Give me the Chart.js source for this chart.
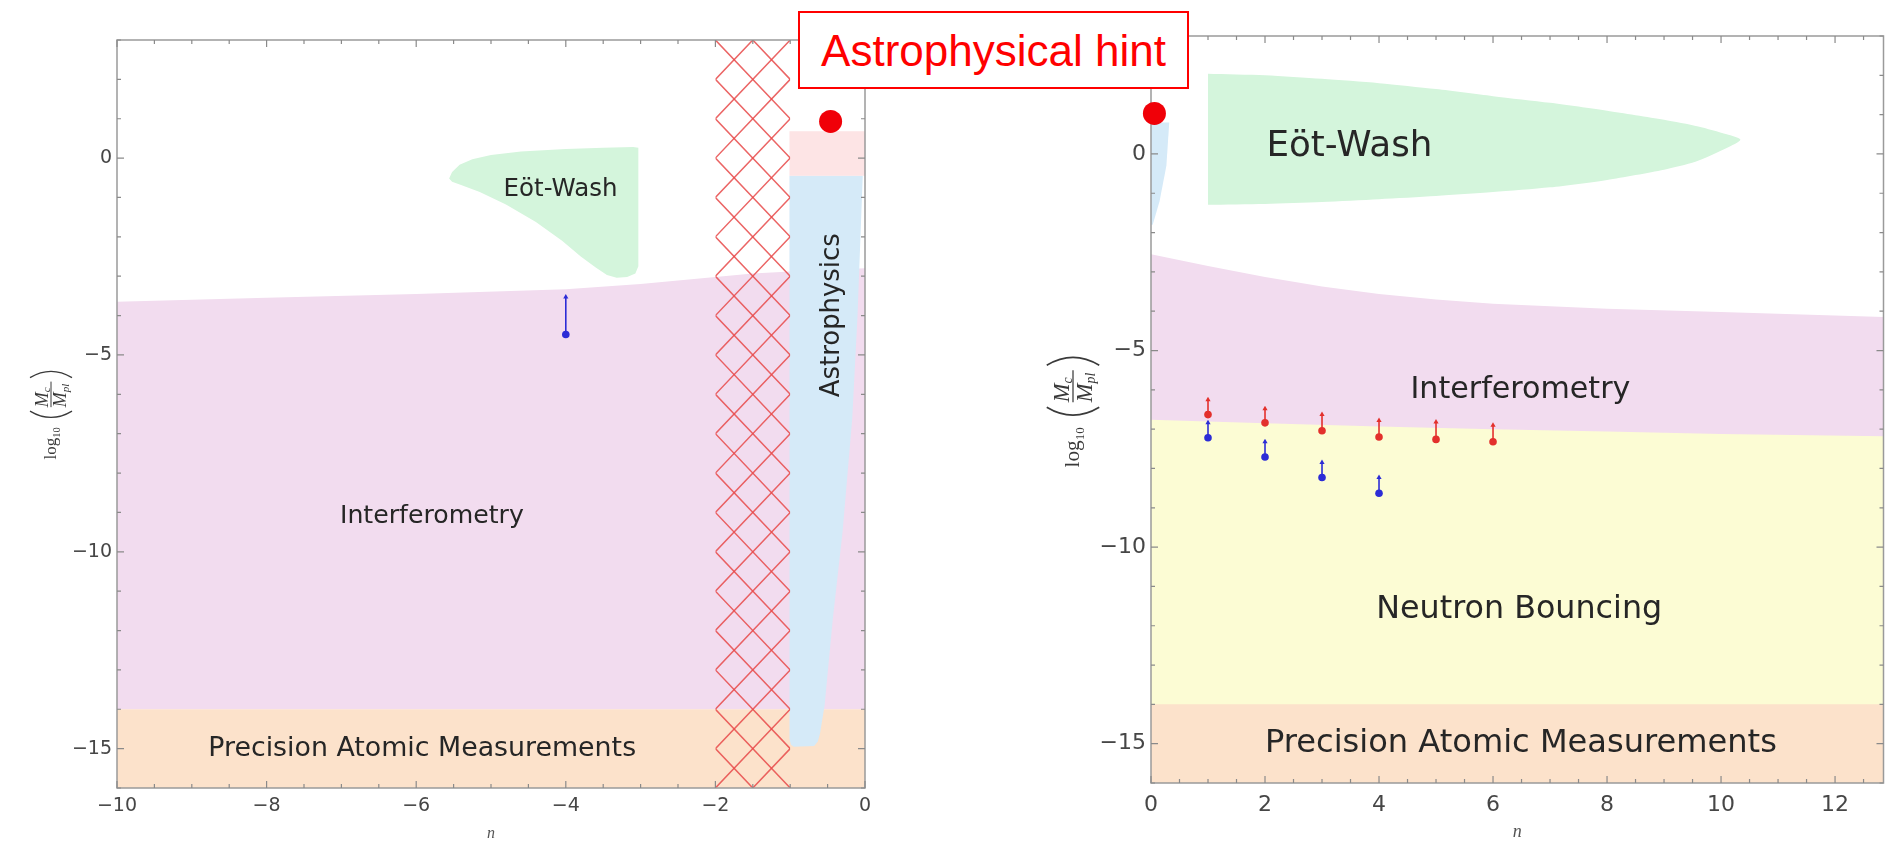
<!DOCTYPE html>
<html><head><meta charset="utf-8">
<script src="https://cdn.jsdelivr.net/npm/chart.js@4.4.1/dist/chart.umd.min.js"></script>
<style>
html,body{margin:0;padding:0;background:#fff;width:1895px;height:843px;overflow:hidden;}
canvas{position:absolute;top:0;}
#left{left:0;}
#right{left:940px;}
#hint{position:absolute;left:798px;top:11px;width:387px;height:74px;border:2px solid #ff0000;background:#fff;color:#ff0000;
 font-family:'Liberation Sans',Arial,sans-serif;font-size:44px;line-height:76px;text-align:center;z-index:5;white-space:nowrap;}
</style></head><body>
<canvas id="left" width="940" height="843"></canvas>
<canvas id="right" width="955" height="843"></canvas>
<div id="hint">Astrophysical hint</div>
<script>
// ---------------- data ----------------
const yRange = [-16, 3];
const leftNRange = [-10, 0];
const rightNRange = [0, 12.85];
const yTickLabels = [-15, -10, -5, 0];
const leftNTickLabels = [-10, -8, -6, -4, -2, 0];
const rightNTickLabels = [0, 2, 4, 6, 8, 10, 12];

const precisionTop = -14;

// left panel (n < 0)
const leftInterfN   = [-10, -8, -6, -4, -3, -2, -1.5, -1, 0];
const leftInterfTop = [-3.65, -3.55, -3.45, -3.33, -3.2, -3.02, -2.93, -2.88, -2.8];
const leftEotN = [-5.56, -5.52, -5.42, -5.25, -5.0, -4.6, -4.0, -3.5, -3.1, -3.03, -3.03, -3.07, -3.18, -3.32, -3.45, -3.6, -3.8, -4.05, -4.4, -4.8, -5.15, -5.4, -5.52];
const leftEotY = [-0.52, -0.35, -0.17, -0.03, 0.08, 0.17, 0.23, 0.26, 0.28, 0.26, -2.75, -2.93, -3.02, -3.04, -2.97, -2.78, -2.5, -2.1, -1.62, -1.18, -0.86, -0.68, -0.6];
const leftAstroN = [-1.01, -0.03, -0.1, -0.17, -0.3, -0.43, -0.54, -0.6, -0.63, -0.68, -0.95, -0.99, -1.01];
const leftAstroY = [-0.45, -0.45, -4, -6.6, -9.5, -11.7, -13.9, -14.6, -14.82, -14.93, -14.95, -14.9, -14.75];
const leftHintBoxN = [-1.01, 0, 0, -1.01];
const leftHintBoxY = [0.68, 0.68, -0.45, -0.45];
const leftHatchN = [-2, -1];
const leftBarN = [-4], leftBarLow = [-4.48], leftBarHigh = [-3.53];
const leftHintN = [-0.46], leftHintY = [0.93];

// right panel (n > 0)
const rightInterfN   = [0, 1, 2, 3, 4, 5, 6, 8, 10, 12.85];
const rightInterfTop = [-2.55, -2.85, -3.13, -3.37, -3.56, -3.7, -3.81, -3.94, -4.02, -4.15];
const rightNeutronN   = [0, 2, 4, 6, 8, 10, 12.85];
const rightNeutronTop = [-6.76, -6.85, -6.93, -7.0, -7.06, -7.12, -7.18];
const rightEotN = [1, 2, 3, 4, 5, 6, 7, 8, 9, 9.6, 10.1, 10.34, 10.1, 9.55, 9, 8, 7, 6, 5, 4, 3, 2, 1];
const rightEotY = [2.04, 2.0, 1.91, 1.8, 1.65, 1.47, 1.3, 1.1, 0.87, 0.7, 0.5, 0.36, 0.15, -0.2, -0.4, -0.66, -0.85, -0.97, -1.07, -1.15, -1.22, -1.27, -1.29];
const rightAstroN = [0, 0.32, 0.27, 0.15, 0.03, 0];
const rightAstroY = [0.8, 0.8, -0.3, -1.2, -1.8, -1.8];
const redBarN = [1, 2, 3, 4, 5, 6];
const redBarLow  = [-6.63, -6.84, -7.04, -7.2, -7.26, -7.32];
const redBarHigh = [-6.25, -6.48, -6.63, -6.78, -6.82, -6.9];
const blueBarN = [1, 2, 3, 4];
const blueBarLow  = [-7.22, -7.71, -8.23, -8.63];
const blueBarHigh = [-6.84, -7.32, -7.85, -8.23];
const rightHintN = [0.06], rightHintY = [1.03];

// ---------------- helpers ----------------
const pts = (xs, ys) => xs.map((x, i) => ({x, y: ys[i]}));
function bars(ns, lows, highs) {
  const d = [];
  ns.forEach((n, i) => { d.push({x: n, y: lows[i]}); d.push({x: n, y: highs[i]}); d.push({x: n, y: null}); });
  return d;
}
const COL = {
  pink: '#f2dcef', orange: '#fce2cb', green: '#d4f5dc', blue: '#d5eaf8', yellow: '#fcfcd4', hintBox: '#fde4e5',
  red: '#e3302c', barBlue: '#2c2cd6', dot: '#f00008'
};
function polyDS(data, color, order, extra) {
  return Object.assign({data, backgroundColor: color, borderWidth: 0, pointRadius: 0, fill: 'shape', order, tension: 0}, extra || {});
}
function barDS(data, color, order) {
  return {data, borderColor: color, backgroundColor: color, borderWidth: 1.6, fill: false, order, spanGaps: false,
    pointStyle: c => (c.dataIndex % 3 === 1 ? 'triangle' : 'circle'),
    pointRadius: c => (c.dataIndex % 3 === 1 ? 3 : 3.8), pointBorderWidth: 0};
}
function dotDS(xs, ys, order) {
  return {data: pts(xs, ys), showLine: false, pointRadius: 11.5, pointBackgroundColor: COL.dot, pointBorderWidth: 0, order, clip: false};
}

function drawParen(ctx, x, w, h, left) {
  ctx.beginPath();
  if (left) { ctx.moveTo(x + w, -h / 2); ctx.quadraticCurveTo(x - w * 0.8, 0, x + w, h / 2); }
  else { ctx.moveTo(x, -h / 2); ctx.quadraticCurveTo(x + w * 1.8, 0, x, h / 2); }
  ctx.stroke();
}
function drawYTitle(ctx, cx, cy, s) {
  ctx.save();
  ctx.translate(cx, cy); ctx.rotate(-Math.PI / 2);
  const col = '#3a3a3a';
  ctx.fillStyle = col; ctx.strokeStyle = col;
  const serif = "'Liberation Serif', 'DejaVu Serif', serif";
  const fLog = 17 * s, fSub = 10.5 * s, fM = 18 * s, fMs = 11 * s;
  ctx.font = `${fLog}px ${serif}`; const wLog = ctx.measureText('log').width;
  ctx.font = `${fSub}px ${serif}`; const wSub = ctx.measureText('10').width;
  ctx.font = `italic ${fM}px ${serif}`; const wM = ctx.measureText('M').width;
  ctx.font = `italic ${fMs}px ${serif}`; const wpl = ctx.measureText('pl').width;
  const fracW = wM + wpl + 2 * s;
  const parenW = 7 * s, gap = 9 * s, inner = 4 * s, parenH = 42 * s;
  const total = wLog + wSub + gap + parenW + inner + fracW + inner + parenW;
  let x = -total / 2;
  const base = 5 * s;
  ctx.font = `${fLog}px ${serif}`; ctx.fillText('log', x, base); x += wLog;
  ctx.font = `${fSub}px ${serif}`; ctx.fillText('10', x, base + 3.5 * s); x += wSub + gap;
  ctx.lineWidth = 1.3 * s;
  drawParen(ctx, x, parenW, parenH, true); x += parenW + inner;
  ctx.lineWidth = 1 * s;
  ctx.beginPath(); ctx.moveTo(x, 0); ctx.lineTo(x + fracW, 0); ctx.stroke();
  ctx.font = `italic ${fM}px ${serif}`;
  ctx.fillText('M', x, -3 * s);
  ctx.fillText('M', x, 3 * s + fM * 0.68);
  ctx.font = `italic ${fMs}px ${serif}`;
  ctx.fillText('c', x + wM, -1 * s);
  ctx.fillText('pl', x + wM, 5.5 * s + fM * 0.68);
  x += fracW + inner;
  ctx.lineWidth = 1.3 * s;
  drawParen(ctx, x, parenW, parenH, false);
  ctx.restore();
}

// plugin that draws the hatch, region labels and the framed inward ticks
const panelPlugin = {
  id: 'panel',
  afterDatasetDraw(chart, args) {
    const ds = chart.data.datasets[args.index];
    if (!ds.lastBg) return;
    const P = chart.options.plugins.panel;
    const {ctx, chartArea: a, scales: {x, y}} = chart;
    // hatch
    if (P.hatch) {
      const xl = x.getPixelForValue(P.hatch[0]), xr = x.getPixelForValue(P.hatch[1]);
      ctx.save();
      ctx.beginPath(); ctx.rect(xl, a.top, xr - xl, a.bottom - a.top); ctx.clip();
      ctx.strokeStyle = 'rgba(232,74,74,0.85)'; ctx.lineWidth = 1.5;
      const span = P.hatch[1] - P.hatch[0];
      for (let k = Math.floor(y.min) - 4; k <= Math.ceil(y.max) + 4; k++) {
        ctx.beginPath();
        ctx.moveTo(xl, y.getPixelForValue(k)); ctx.lineTo(xr, y.getPixelForValue(k + 2 * span));
        ctx.moveTo(xl, y.getPixelForValue(k)); ctx.lineTo(xr, y.getPixelForValue(k - 2 * span));
        ctx.stroke();
      }
      ctx.restore();
    }
    // labels
    ctx.save();
    ctx.fillStyle = '#262626';
    P.labels.forEach(L => {
      ctx.font = "100px 'DejaVu Sans'";
      const w100 = ctx.measureText(L.t).width;
      const fs = 100 * L.w / w100;
      ctx.font = fs + "px 'DejaVu Sans'";
      ctx.textAlign = 'center'; ctx.textBaseline = 'alphabetic';
      const px = x.getPixelForValue(L.n), py = y.getPixelForValue(L.y);
      ctx.save(); ctx.translate(px, py);
      if (L.rot) ctx.rotate(-Math.PI / 2);
      ctx.fillText(L.t, 0, fs * 0.365);
      ctx.restore();
    });
    ctx.restore();
    // frame + inward ticks
    ctx.save();
    ctx.strokeStyle = '#9a9a9a'; ctx.lineWidth = 1.5;
    ctx.strokeRect(a.left, a.top, a.right - a.left, a.bottom - a.top);
    ctx.lineWidth = 1.2; ctx.strokeStyle = '#8a8a8a';
    ctx.beginPath();
    x.ticks.forEach(t => {
      const px = x.getPixelForValue(t.value);
      const len = P.xMajor.includes(t.value) ? 7 : 4;
      ctx.moveTo(px, a.bottom); ctx.lineTo(px, a.bottom - len);
      ctx.moveTo(px, a.top); ctx.lineTo(px, a.top + len);
    });
    y.ticks.forEach(t => {
      const py = y.getPixelForValue(t.value);
      const len = yTickLabels.includes(t.value) ? 7 : 4;
      ctx.moveTo(a.left, py); ctx.lineTo(a.left + len, py);
      ctx.moveTo(a.right, py); ctx.lineTo(a.right - len, py);
    });
    ctx.stroke();
    ctx.restore();
  },
  afterDraw(chart) {
    const P = chart.options.plugins.panel;
    drawYTitle(chart.ctx, P.yTitle[0], P.yTitle[1], P.yTitle[2]);
  }
};

function fmt(v) { return v < 0 ? '\u2212' + Math.abs(v) : String(v); }
function stepList(a, b, s) { const r = []; for (let v = a; v <= b + 1e-9; v += s) r.push(Math.round(v * 100) / 100); return r; }

function makeChart(id, o) {
  return new Chart(document.getElementById(id), {
    type: 'line',
    data: {datasets: o.datasets},
    options: {
      responsive: false, animation: false, devicePixelRatio: 1,
      layout: {padding: o.pad},
      plugins: {legend: {display: false}, tooltip: {enabled: false},
        panel: {hatch: o.hatch, labels: o.labels, xMajor: o.xMajor, yTitle: o.yTitle}},
      scales: {
        x: {type: 'linear', min: o.nRange[0], max: o.nRange[1],
          grid: {display: false, drawTicks: false}, border: {display: false},
          afterBuildTicks: s => { s.ticks = stepList(Math.ceil(o.nRange[0] * 2) / 2, o.nRange[1], 0.5).map(v => ({value: v})); },
          afterFit: s => { s.height = o.xAxisH; },
          ticks: {autoSkip: false, maxRotation: 0, padding: o.xPad, color: '#464646',
            font: {family: "'DejaVu Sans'", size: o.tickSize},
            callback: v => (o.xMajor.includes(v) ? fmt(v) : '')},
          title: {display: true, text: 'n', color: '#555', padding: {top: 0, bottom: 0},
            font: {family: "'Liberation Serif', serif", style: 'italic', size: o.nSize}}
        },
        y: {type: 'linear', min: yRange[0], max: yRange[1],
          grid: {display: false, drawTicks: false}, border: {display: false},
          afterBuildTicks: s => { s.ticks = stepList(yRange[0], yRange[1], 1).map(v => ({value: v})); },
          afterFit: s => { s.width = o.yAxisW; },
          ticks: {autoSkip: false, padding: 5, color: '#464646',
            font: {family: "'DejaVu Sans'", size: o.tickSize},
            callback: v => (yTickLabels.includes(v) ? fmt(v) : '')}
        }
      }
    },
    plugins: [panelPlugin]
  });
}

makeChart('left', {
  nRange: leftNRange, pad: {left: 0, right: 75, top: 40, bottom: 0}, yAxisW: 117, xAxisH: 55, xPad: 7,
  tickSize: 19, nSize: 16, xMajor: leftNTickLabels, hatch: leftHatchN, yTitle: [51, 415, 1],
  labels: [
    {t: 'Eöt-Wash', n: -4.07, y: -0.73, w: 114},
    {t: 'Interferometry', n: -5.79, y: -9.04, w: 184},
    {t: 'Precision Atomic Measurements', n: -5.92, y: -14.95, w: 428},
    {t: 'Astrophysics', n: -0.47, y: -3.99, w: 164, rot: true}
  ],
  datasets: [
    Object.assign(polyDS(pts(leftInterfN, leftInterfTop), COL.pink, 50), {fill: {value: precisionTop}}),
    Object.assign(polyDS(pts(leftNRange, [precisionTop, precisionTop]), COL.orange, 49), {fill: 'start'}),
    polyDS(pts(leftEotN, leftEotY), COL.green, 48),
    polyDS(pts(leftAstroN, leftAstroY), COL.blue, 47),
    polyDS(pts(leftHintBoxN, leftHintBoxY), COL.hintBox, 46, {lastBg: true}),
    barDS(bars(leftBarN, leftBarLow, leftBarHigh), COL.barBlue, 5),
    dotDS(leftHintN, leftHintY, 1)
  ]
});

makeChart('right', {
  nRange: rightNRange, pad: {left: 0, right: 2, top: 36, bottom: 0}, yAxisW: 211, xAxisH: 60, xPad: 9,
  tickSize: 22, nSize: 18, xMajor: rightNTickLabels, hatch: null, yTitle: [133, 412, 1.25],
  labels: [
    {t: 'Eöt-Wash', n: 3.48, y: 0.28, w: 166},
    {t: 'Interferometry', n: 6.48, y: -5.93, w: 220},
    {t: 'Neutron Bouncing', n: 6.46, y: -11.52, w: 286},
    {t: 'Precision Atomic Measurements', n: 6.49, y: -14.92, w: 512}
  ],
  datasets: [
    Object.assign(polyDS(pts(rightInterfN, rightInterfTop), COL.pink, 50), {fill: 'start'}),
    Object.assign(polyDS(pts(rightNeutronN, rightNeutronTop), COL.yellow, 49), {fill: 'start'}),
    Object.assign(polyDS(pts(rightNRange, [precisionTop, precisionTop]), COL.orange, 48), {fill: 'start'}),
    polyDS(pts(rightEotN, rightEotY), COL.green, 47, {tension: 0.25}),
    polyDS(pts(rightAstroN, rightAstroY), COL.blue, 46, {lastBg: true}),
    barDS(bars(redBarN, redBarLow, redBarHigh), COL.red, 5),
    barDS(bars(blueBarN, blueBarLow, blueBarHigh), COL.barBlue, 4),
    dotDS(rightHintN, rightHintY, 1)
  ]
});
</script>
</body></html>
